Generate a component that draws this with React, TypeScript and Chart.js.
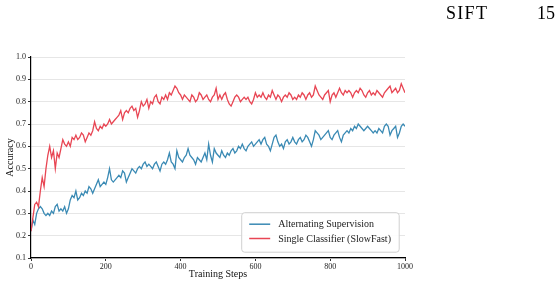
import React, { useEffect, useRef } from "react";
import { Chart, registerables } from "chart.js";

Chart.register(...registerables);

// Training step spacing of the recorded values
const STEP = 5;

// Accuracy of "Single Classifier (SlowFast)" at steps 0, 5, 10, ... 1000
const SINGLE = [
  0.22, 0.28, 0.34, 0.35, 0.33, 0.40, 0.46, 0.42, 0.50, 0.56, 0.60, 0.55, 0.58, 0.50, 0.57, 0.55, 0.59, 0.63, 0.61, 0.60, 0.62,
  0.60, 0.64, 0.63, 0.65, 0.63, 0.64, 0.66, 0.65, 0.62, 0.64, 0.66, 0.65, 0.67, 0.71, 0.68, 0.67, 0.69, 0.68, 0.70, 0.69,
  0.70, 0.72, 0.70, 0.71, 0.72, 0.73, 0.74, 0.76, 0.72, 0.75,
  0.76, 0.75, 0.77, 0.78, 0.76, 0.77, 0.73, 0.76, 0.80, 0.78, 0.79, 0.81, 0.77, 0.80, 0.79, 0.82, 0.83, 0.80, 0.79, 0.82,
  0.81, 0.83, 0.81, 0.84, 0.83, 0.85, 0.87, 0.86, 0.84, 0.83, 0.81, 0.83, 0.82, 0.81, 0.80, 0.83, 0.82, 0.80, 0.81, 0.84,
  0.83, 0.81, 0.82, 0.83, 0.81, 0.80, 0.82, 0.83, 0.86, 0.81,
  0.83, 0.81, 0.83, 0.84, 0.81, 0.79, 0.78, 0.80, 0.82, 0.83, 0.82, 0.80, 0.81, 0.82, 0.81, 0.82, 0.80, 0.79, 0.81, 0.84,
  0.82, 0.83, 0.82, 0.84, 0.82, 0.81, 0.83, 0.82, 0.85, 0.83, 0.81, 0.83, 0.82, 0.80, 0.82, 0.83, 0.82, 0.84, 0.83, 0.81,
  0.82, 0.81, 0.83, 0.82, 0.84, 0.83, 0.81, 0.83, 0.84, 0.82, 0.83, 0.87,
  0.85, 0.83, 0.82, 0.81, 0.83, 0.84, 0.85, 0.80, 0.83, 0.84, 0.82, 0.84, 0.86, 0.84, 0.83, 0.85, 0.84, 0.85, 0.84, 0.82,
  0.84, 0.85, 0.84, 0.86, 0.85, 0.83, 0.82, 0.84, 0.85, 0.83, 0.84, 0.83, 0.85, 0.84, 0.83, 0.82, 0.84, 0.85, 0.86, 0.87,
  0.84, 0.85, 0.86, 0.84, 0.85, 0.88, 0.86, 0.84,
];

// Accuracy of "Alternating Supervision" at steps 0, 5, 10, ... 1000
const ALTERNATING = [
  0.22, 0.27, 0.25, 0.30, 0.32, 0.33, 0.32, 0.30, 0.29, 0.30, 0.29, 0.31, 0.30, 0.33, 0.34, 0.31, 0.32, 0.31, 0.33, 0.30, 0.32,
  0.36, 0.38, 0.37, 0.40, 0.36, 0.37, 0.39, 0.38, 0.40, 0.39, 0.42, 0.41, 0.39, 0.41, 0.43, 0.45, 0.42, 0.43, 0.44, 0.43,
  0.46, 0.50, 0.45, 0.44, 0.45, 0.46, 0.47, 0.46, 0.49, 0.48,
  0.44, 0.46, 0.48, 0.50, 0.49, 0.48, 0.50, 0.51, 0.50, 0.52, 0.53, 0.51, 0.52, 0.51, 0.50, 0.52, 0.53, 0.51, 0.49, 0.52,
  0.53, 0.52, 0.54, 0.57, 0.53, 0.52, 0.50, 0.58, 0.55, 0.54, 0.53, 0.55, 0.56, 0.59, 0.56, 0.55, 0.54, 0.52, 0.55, 0.54,
  0.53, 0.55, 0.57, 0.54, 0.61, 0.56, 0.53, 0.59, 0.57, 0.56,
  0.55, 0.58, 0.56, 0.55, 0.57, 0.56, 0.58, 0.59, 0.57, 0.58, 0.60, 0.59, 0.61, 0.59, 0.58, 0.60, 0.61, 0.62, 0.60, 0.61,
  0.62, 0.63, 0.61, 0.63, 0.64, 0.61, 0.60, 0.58, 0.61, 0.64, 0.65, 0.62, 0.60, 0.61, 0.59, 0.62, 0.63, 0.61, 0.62, 0.64,
  0.62, 0.61, 0.63, 0.64, 0.62, 0.63, 0.65, 0.64, 0.62, 0.60, 0.63, 0.67,
  0.66, 0.65, 0.63, 0.64, 0.65, 0.66, 0.67, 0.64, 0.63, 0.65, 0.66, 0.67, 0.64, 0.62, 0.65, 0.66, 0.67, 0.66, 0.68, 0.67,
  0.69, 0.68, 0.70, 0.69, 0.68, 0.67, 0.68, 0.69, 0.68, 0.67, 0.66, 0.67, 0.66, 0.68, 0.67, 0.66, 0.69, 0.70, 0.69, 0.65,
  0.67, 0.68, 0.69, 0.64, 0.66, 0.69, 0.70, 0.69,
];

const SERIES_LABELS = ["Alternating Supervision", "Single Classifier (SlowFast)"];
const SERIES_COLORS = ["#3a8ab4", "#e84654"];

const X_MIN = 0;
const X_MAX = 1000;
const X_TICK_STEP = 200;
const Y_MIN = 0.1;
const Y_MAX = 1.0;
const Y_TICK_STEP = 0.1;

const X_TITLE = "Training Steps";
const Y_TITLE = "Accuracy";
const HEADER_LEFT = "SIFT";
const HEADER_RIGHT = "15";

const SERIF = "'Liberation Serif', 'Times New Roman', serif";

const toPoints = (vals: number[]) => vals.map((v, i) => ({ x: i * STEP, y: v }));

const boxLegend = {
  id: "boxLegend",
  afterDatasetsDraw(chart: any) {
    const { ctx, chartArea } = chart;
    const w = 157.5;
    const h = 39.5;
    const x0 = chartArea.right - 163.3;
    const y0 = chartArea.bottom - 45.3;
    ctx.save();
    ctx.beginPath();
    if (ctx.roundRect) ctx.roundRect(x0, y0, w, h, 3);
    else ctx.rect(x0, y0, w, h);
    ctx.fillStyle = "rgba(255,255,255,0.9)";
    ctx.fill();
    ctx.strokeStyle = "#d0d0d0";
    ctx.lineWidth = 1;
    ctx.stroke();
    const rowsY = [y0 + 11.5, y0 + 25.8];
    chart.data.datasets.forEach((ds: any, i: number) => {
      const y = rowsY[i];
      ctx.beginPath();
      ctx.moveTo(x0 + 7.5, y);
      ctx.lineTo(x0 + 28.5, y);
      ctx.strokeStyle = ds.borderColor;
      ctx.lineWidth = 1.5;
      ctx.stroke();
      ctx.fillStyle = "#1a1a1a";
      ctx.font = `10px ${SERIF}`;
      ctx.textBaseline = "middle";
      ctx.textAlign = "left";
      ctx.fillText(ds.label, x0 + 36.5, y + 0.5);
    });
    ctx.restore();
  },
};

export default function App() {
  const canvasRef = useRef<HTMLCanvasElement | null>(null);

  useEffect(() => {
    if (!canvasRef.current) return;
    const chart = new Chart(canvasRef.current, {
      type: "line",
      data: {
        datasets: [
          {
            label: SERIES_LABELS[0],
            data: toPoints(ALTERNATING),
            borderColor: SERIES_COLORS[0],
            backgroundColor: SERIES_COLORS[0],
            borderWidth: 1.3,
            pointRadius: 0,
            tension: 0,
            order: 1,
          },
          {
            label: SERIES_LABELS[1],
            data: toPoints(SINGLE),
            borderColor: SERIES_COLORS[1],
            backgroundColor: SERIES_COLORS[1],
            borderWidth: 1.3,
            pointRadius: 0,
            tension: 0,
            order: 0,
          },
        ],
      },
      options: {
        animation: false,
        responsive: false,
        maintainAspectRatio: false,
        layout: { padding: { left: 0, top: 57, right: 155, bottom: 0 } },
        plugins: {
          legend: { display: false },
          tooltip: { enabled: false },
        },
        scales: {
          x: {
            type: "linear",
            min: X_MIN,
            max: X_MAX,
            afterFit: (s: any) => {
              s.height = 29;
            },
            border: { display: true, color: "#000", width: 1.2 },
            grid: {
              drawOnChartArea: false,
              drawTicks: true,
              tickLength: 3,
              tickColor: "#000",
              tickWidth: 0.8,
            },
            ticks: {
              stepSize: X_TICK_STEP,
              padding: 1,
              color: "#222",
              font: { family: SERIF, size: 8 },
              maxRotation: 0,
              callback: (v: any) => String(Math.round(Number(v))),
            },
            title: {
              display: true,
              text: X_TITLE,
              color: "#111",
              font: { family: SERIF, size: 10 },
              padding: { top: 0, bottom: 7 },
            },
          },
          y: {
            type: "linear",
            min: Y_MIN,
            max: Y_MAX,
            afterFit: (s: any) => {
              s.width = 31;
            },
            border: { display: true, color: "#000", width: 1.2 },
            grid: {
              color: "#e6e6e6",
              lineWidth: 1,
              drawTicks: true,
              tickLength: 3,
              tickColor: "#000",
              tickWidth: 0.8,
            },
            ticks: {
              stepSize: Y_TICK_STEP,
              padding: 2,
              color: "#222",
              font: { family: SERIF, size: 8 },
              callback: (v: any) => Number(v).toFixed(1),
            },
            title: {
              display: true,
              text: Y_TITLE,
              color: "#111",
              font: { family: SERIF, size: 10 },
              padding: { top: 4, bottom: 4 },
            },
          },
        },
      },
      plugins: [boxLegend],
    } as any);
    return () => chart.destroy();
  }, []);

  return (
    <div style={{ position: "fixed", left: 0, top: 0, width: 560, height: 287, background: "#fff" }}>
      <canvas ref={canvasRef} width={560} height={287} style={{ position: "absolute", left: 0, top: 0, width: 560, height: 287 }} />
      <div style={{ position: "absolute", left: 446, top: 4, font: `18px ${SERIF}`, lineHeight: "18px", letterSpacing: "1.3px", color: "#000" }}>{HEADER_LEFT}</div>
      <div style={{ position: "absolute", left: 537, top: 4, font: `18px ${SERIF}`, lineHeight: "18px", color: "#000" }}>{HEADER_RIGHT}</div>
    </div>
  );
}
